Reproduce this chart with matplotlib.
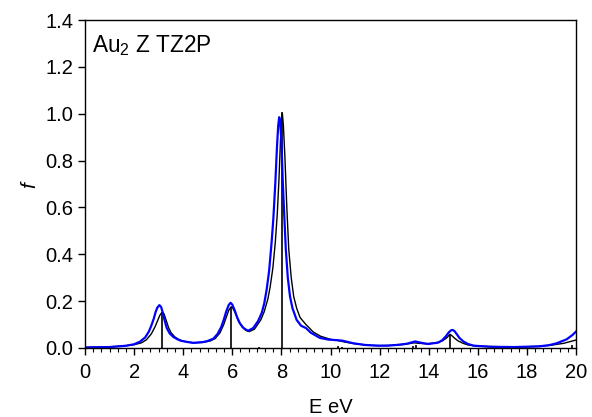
import matplotlib
matplotlib.use("Agg")
import matplotlib.pyplot as plt
from matplotlib.ticker import MultipleLocator

plt.rcParams['font.family'] = ['Liberation Sans', 'DejaVu Sans']
plt.rcParams['mathtext.fontset'] = 'custom'
plt.rcParams['mathtext.rm'] = 'Liberation Sans'
plt.rcParams['mathtext.it'] = 'Liberation Sans:italic'

# black broadened spectrum
e_black = [0.0, 1.0, 1.5, 2.0, 2.3, 2.5, 2.7, 2.85, 2.95, 3.05, 3.12, 3.17, 3.22, 3.3,
           3.4, 3.5, 3.65, 3.8, 4.0, 4.4, 4.8, 5.1, 5.3, 5.5, 5.65, 5.75, 5.85, 5.95,
           6.02, 6.12, 6.25, 6.4, 6.55, 6.69, 6.9, 7.16, 7.3, 7.45, 7.54, 7.65, 7.75,
           7.83, 7.9, 7.96, 8.01, 8.04, 8.08, 8.14, 8.22, 8.3, 8.4, 8.5, 8.62, 8.76,
           9.0, 9.3, 9.6, 10.0, 10.3, 10.6, 11.0, 11.5, 12.0, 12.5, 13.0, 13.4, 13.6,
           13.9, 14.3, 14.55, 14.72, 14.82, 14.87, 14.95, 15.05, 15.2, 15.4, 15.6,
           16.0, 17.0, 18.0, 18.5, 19.0, 19.5, 20.0]
f_black = [0.003, 0.005, 0.008, 0.014, 0.022, 0.035, 0.06, 0.09, 0.115, 0.14, 0.15,
           0.152, 0.145, 0.12, 0.088, 0.066, 0.048, 0.037, 0.029, 0.022, 0.024, 0.03,
           0.04, 0.065, 0.10, 0.13, 0.16, 0.176, 0.17, 0.15, 0.115, 0.09, 0.075,
           0.070, 0.08, 0.12, 0.155, 0.21, 0.26, 0.34, 0.45, 0.57, 0.72, 0.88, 0.98,
           1.0, 0.95, 0.82, 0.60, 0.42, 0.30, 0.22, 0.17, 0.13, 0.10, 0.068, 0.05,
           0.037, 0.032, 0.025, 0.018, 0.012, 0.010, 0.011, 0.015, 0.022, 0.020,
           0.018, 0.022, 0.03, 0.042, 0.053, 0.058, 0.052, 0.042, 0.03, 0.02, 0.013,
           0.008, 0.005, 0.005, 0.007, 0.012, 0.02, 0.034]

# blue broadened spectrum
e_blue = [0.0, 1.0, 1.5, 1.7, 2.0, 2.24, 2.45, 2.6, 2.7, 2.8, 2.88, 2.95, 3.03, 3.1,
          3.17, 3.25, 3.33, 3.45, 3.6, 3.75, 3.9, 4.2, 4.41, 4.8, 5.0, 5.23, 5.4, 5.55,
          5.65, 5.75, 5.85, 5.93, 6.0, 6.1, 6.2, 6.31, 6.45, 6.58, 6.65, 6.85, 7.05,
          7.2, 7.3, 7.4, 7.5, 7.6, 7.67, 7.75, 7.82, 7.87, 7.91, 7.95, 8.0, 8.06,
          8.11, 8.18, 8.26, 8.35, 8.45, 8.62, 8.8, 9.0, 9.2, 9.57, 9.9, 10.3, 10.5,
          10.93, 11.4, 11.88, 12.3, 12.7, 13.1, 13.45, 13.7, 13.98, 14.39, 14.55,
          14.7, 14.82, 14.92, 14.98, 15.05, 15.15, 15.25, 15.41, 15.6, 15.82, 16.5,
          17.5, 18.5, 18.9, 19.21, 19.62, 19.85, 20.0]
f_blue = [0.002, 0.004, 0.008, 0.01, 0.016, 0.027, 0.045, 0.07, 0.095, 0.125, 0.155,
          0.173, 0.183, 0.175, 0.15, 0.115, 0.085, 0.062, 0.047, 0.038, 0.031, 0.025,
          0.022, 0.025, 0.03, 0.04, 0.06, 0.09, 0.12, 0.155, 0.183, 0.193, 0.185,
          0.16, 0.13, 0.105, 0.086, 0.077, 0.074, 0.085, 0.115, 0.15, 0.19, 0.25,
          0.33, 0.45, 0.55, 0.70, 0.86, 0.95, 0.985, 0.97, 0.88, 0.70, 0.58, 0.42,
          0.30, 0.22, 0.17, 0.12, 0.095, 0.085, 0.065, 0.043, 0.036, 0.033, 0.031,
          0.02, 0.013, 0.01, 0.01, 0.013, 0.018, 0.028, 0.022, 0.017, 0.023, 0.033,
          0.05, 0.067, 0.076, 0.077, 0.072, 0.058, 0.043, 0.028, 0.017, 0.01, 0.005,
          0.004, 0.007, 0.012, 0.02, 0.037, 0.055, 0.07]

# oscillator strengths (sticks)
e_sticks = [3.15, 5.95, 7.1, 8.04, 10.3, 10.45, 13.37, 13.5, 14.87, 19.85]
f_sticks = [0.152, 0.176, 0.004, 1.006, 0.008, 0.005, 0.01, 0.012, 0.06, 0.012]

fig = plt.figure(figsize=(5.92, 4.17), dpi=100)
ax = fig.add_axes([0.1436, 0.1655, 0.8294, 0.7865])

ax.vlines(e_sticks, 0, f_sticks, color='black', lw=1.2)
ax.plot(e_black, f_black, color='black', lw=1.0)
ax.plot(e_blue, f_blue, color='#0000ff', lw=1.6)

ax.set_xlim(0, 20)
ax.set_ylim(0, 1.4)
ax.xaxis.set_minor_locator(MultipleLocator(2 / 6))
ax.set_xticks(range(0, 21, 2))
ax.set_yticks([0, 0.2, 0.4, 0.6, 0.8, 1.0, 1.2, 1.4])
ax.set_yticklabels(['0.0', '0.2', '0.4', '0.6', '0.8', '1.0', '1.2', '1.4'])
ax.tick_params(which='major', direction='out', length=5, width=1, labelsize=14.5,
               top=False, right=False)
ax.tick_params(axis='x', which='major', pad=6)
ax.tick_params(which='minor', direction='out', length=3, width=0.8,
               top=False, right=False)
for s in ax.spines.values():
    s.set_linewidth(1.0)

ax.set_xlabel('E eV', fontsize=14.5, labelpad=11)
ax.set_ylabel('$f$', fontsize=15, labelpad=4)
ax.text(0.015, 0.96, r'Au$_\mathregular{2}$ Z TZ2P', transform=ax.transAxes,
        fontsize=16.3, va='top', ha='left')

fig.savefig('out.png', dpi=100)
